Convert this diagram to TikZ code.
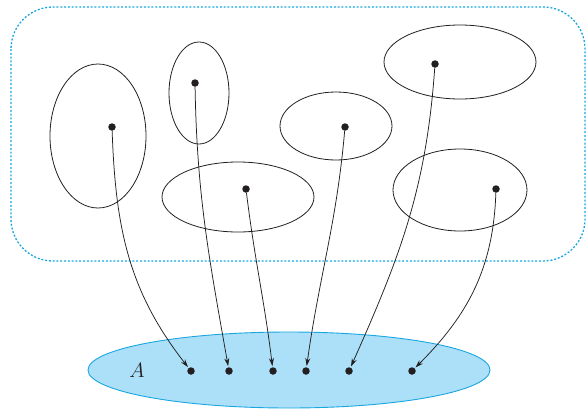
\documentclass[tikz,border=0pt]{standalone}
\usetikzlibrary{arrows.meta}
\definecolor{ink}{HTML}{231F20}
\definecolor{setblue}{HTML}{1AA7E0}
\definecolor{setfill}{HTML}{ABE0F8}
\tikzset{
  region/.style={draw=ink, line width=0.8pt},
  pt/.style={circle, fill=ink, inner sep=0pt, minimum size=7.5pt},
  mapto/.style={draw=ink, line width=0.75pt, -{Stealth[length=8pt,width=5pt]}, shorten >=1pt}
}
\begin{document}
\begin{tikzpicture}[x=1pt,y=-1pt]
\useasboundingbox (0,0) rectangle (587,413);
% dotted outer domain
\draw[setblue, line width=1.3pt, dash pattern=on 2pt off 1.8pt, rounded corners=42pt]
  (11,7) rectangle (585,261);
% the sets inside the domain
\draw[region] (98,136) ellipse [x radius=48, y radius=72];
\draw[region] (199,93) ellipse [x radius=30, y radius=51];
\draw[region] (238,197) ellipse [x radius=76, y radius=35];
\draw[region] (336,126) ellipse [x radius=56, y radius=34];
\draw[region] (460,62) ellipse [x radius=76, y radius=37];
\draw[region] (460,190) ellipse [x radius=67, y radius=41];
% the target set A
\draw[setblue, fill=setfill, line width=0.9pt] (289,370) ellipse [x radius=201, y radius=38];
\node[text=ink, font=\fontsize{21}{24}\selectfont] (lab) at (137,370) {$A$};
% representative points
\node[pt] (s1) at (112,127) {};
\node[pt] (s2) at (195,83) {};
\node[pt] (s3) at (246,189) {};
\node[pt] (s4) at (345,127) {};
\node[pt] (s5) at (435,64) {};
\node[pt] (s6) at (496,189) {};
% their images in A
\node[pt] (a1) at (191,371) {};
\node[pt] (a2) at (229,371) {};
\node[pt] (a3) at (273,371) {};
\node[pt] (a4) at (306,371) {};
\node[pt] (a5) at (349,371) {};
\node[pt] (a6) at (412,371) {};
% the mapping
\draw[mapto] (s1) to[out=-88, in=128] (a1);
\draw[mapto] (s2) to[out=-89, in=100] (a2);
\draw[mapto] (s3) to[out=-83, in=97] (a3);
\draw[mapto] (s4) to[out=-95, in=82] (a4);
\draw[mapto] (s5) to[out=-94, in=66] (a5);
\draw[mapto] (s6) to[out=-92, in=45] (a6);
\end{tikzpicture}
\end{document}
